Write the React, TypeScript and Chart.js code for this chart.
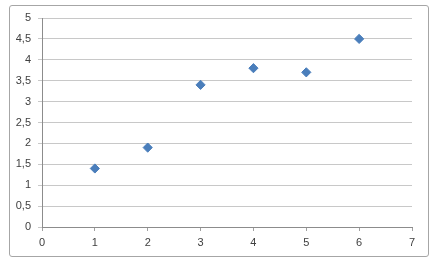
import React, { useEffect, useRef } from "react";
import { Chart, registerables } from "chart.js";

Chart.register(...registerables);

const xValues = [1, 2, 3, 4, 5, 6];
const yValues = [1.4, 1.9, 3.4, 3.8, 3.7, 4.5];

export default function App() {
  const ref = useRef<HTMLCanvasElement | null>(null);
  useEffect(() => {
    if (!ref.current) return;
    const chart = new Chart(ref.current, {
      type: "scatter",
      data: {
        datasets: [
          {
            data: xValues.map((x, i) => ({ x, y: yValues[i] })),
            pointStyle: "rectRot",
            pointRadius: 4.6,
            backgroundColor: "#4a7ebb",
            borderColor: "#4a7ebb",
            borderWidth: 1,
          },
        ],
      },
      options: {
        animation: false,
        responsive: false,
        layout: { padding: { left: 0, top: 18, right: 24, bottom: 0 } },
        plugins: { legend: { display: false }, tooltip: { enabled: false } },
        scales: {
          x: {
            type: "linear",
            min: 0,
            max: 7,
            afterFit: (s: any) => {
              s.height = 37;
            },
            ticks: {
              stepSize: 1,
              padding: 5,
              color: "#404040",
              font: { family: "Liberation Sans", size: 11 },
            },
            grid: {
              drawOnChartArea: false,
              drawTicks: true,
              tickLength: 4,
              tickColor: "#a0a0a0",
            },
            border: { color: "#8c8c8c", width: 1 },
          },
          y: {
            min: 0,
            max: 5,
            afterFit: (s: any) => {
              s.width = 42;
            },
            ticks: {
              stepSize: 0.5,
              padding: 7,
              color: "#404040",
              font: { family: "Liberation Sans", size: 11 },
              callback: (v: any) => String(v).replace(".", ","),
            },
            grid: {
              color: "#c8c8c8",
              tickLength: 4,
              tickColor: "#c8c8c8",
            },
            border: { color: "#8c8c8c", width: 1 },
          },
        },
      },
    });
    return () => chart.destroy();
  }, []);
  return (
    <div style={{ position: "fixed", left: 0, top: 0, width: 436, height: 264, background: "#fff" }}>
      <div
        style={{
          position: "absolute",
          left: 9,
          top: 5,
          width: 418,
          height: 250,
          border: "1px solid #a6a6a6",
          borderRadius: 3,
        }}
      />
      <canvas ref={ref} width={436} height={264} style={{ position: "absolute", left: 0, top: 0 }} />
    </div>
  );
}
